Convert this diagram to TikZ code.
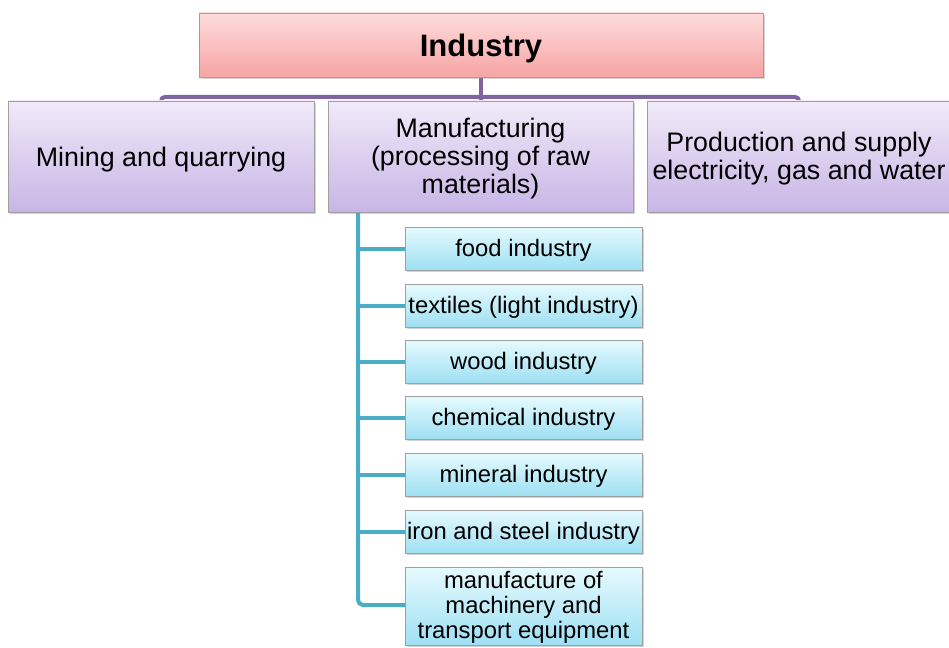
\documentclass[tikz,border=0pt]{standalone}
\usepackage{fontspec}
\setmainfont{Liberation Sans}
\usetikzlibrary{shadows,shadings}
\definecolor{pinktop}{HTML}{FDDCDC}
\definecolor{pinkbot}{HTML}{F7A4A4}
\definecolor{lavtop}{HTML}{F0EAF8}
\definecolor{lavbot}{HTML}{C8B5E6}
\definecolor{cyantop}{HTML}{E6FAFE}
\definecolor{cyanbot}{HTML}{9EE0F3}
\definecolor{purpleline}{HTML}{8064A2}
\definecolor{tealline}{HTML}{4BACC6}
\definecolor{boxedge}{HTML}{A0A0A0}
\tikzset{
  boxbase/.style={draw=boxedge, line width=0.8pt, inner sep=0pt, align=center,
    drop shadow={shadow xshift=1.5pt, shadow yshift=-2pt, opacity=0.35}},
  topbox/.style={boxbase, top color=pinktop, bottom color=pinkbot,
    minimum width=564pt, minimum height=64pt, font=\fontsize{31}{34}\selectfont\bfseries},
  midbox/.style={boxbase, top color=lavtop, bottom color=lavbot,
    minimum height=111pt, font=\fontsize{26.8}{28}\selectfont},
  subbox/.style={boxbase, top color=cyantop, bottom color=cyanbot,
    minimum width=237pt, minimum height=43pt, font=\fontsize{23.8}{25}\selectfont},
  pline/.style={draw=purpleline, line width=4pt, rounded corners=4pt},
  tline/.style={draw=tealline, line width=4pt, rounded corners=5pt},
}
\newcommand{\dn}[2]{\raisebox{-#1}[\height][\depth]{#2}}
\begin{document}
\begin{tikzpicture}[x=1pt,y=-1pt]
\useasboundingbox (0,0) rectangle (949,647);
\coordinate (bus) at (481,97);
\coordinate (trunk) at (358,212);
% connectors (behind boxes)
\path (161,156.5) coordinate (cmine) (480.5,156.5) coordinate (cmanu) (799,156.5) coordinate (cprod);
\draw[pline] (481,77) -- (481,101);
\draw[pline] (161,101) |- (bus) -| (799,101);
\draw[tline] (trunk) |- (405,605);
\foreach \y in {248.5,305.5,361.5,417.5,474.5,531.5}
  \draw[tline] (358,\y) -- (405,\y);
% boxes
\node[topbox] (ind) at (481,45) {\dn{3.5pt}{Industry}};
\node[midbox, minimum width=306pt] (mine) at (cmine) {\dn{3pt}{Mining and quarrying}};
\node[midbox, minimum width=305pt] (manu) at (cmanu) {\dn{2.5pt}{Manufacturing}\\\dn{2.5pt}{(processing of raw}\\\dn{2.5pt}{materials)}};
\node[midbox, minimum width=304pt] (prod) at (cprod) {\dn{2.5pt}{Production and supply}\\\dn{2.5pt}{electricity, gas and water}};
\node[subbox] (s1) at (523.5,248.5) {\dn{2pt}{food industry}};
\node[subbox] (s2) at (523.5,305.5) {\dn{2pt}{textiles (light industry)}};
\node[subbox] (s3) at (523.5,361.5) {\dn{2pt}{wood industry}};
\node[subbox] (s4) at (523.5,417.5) {\dn{2pt}{chemical industry}};
\node[subbox] (s5) at (523.5,474.5) {\dn{2pt}{mineral industry}};
\node[subbox] (s6) at (523.5,531.5) {\dn{2pt}{iron and steel industry}};
\node[subbox, minimum height=78pt] (s7) at (523.5,606) {\dn{1pt}{manufacture of}\\\dn{1pt}{machinery and}\\\dn{1pt}{transport equipment}};
\end{tikzpicture}
\end{document}
